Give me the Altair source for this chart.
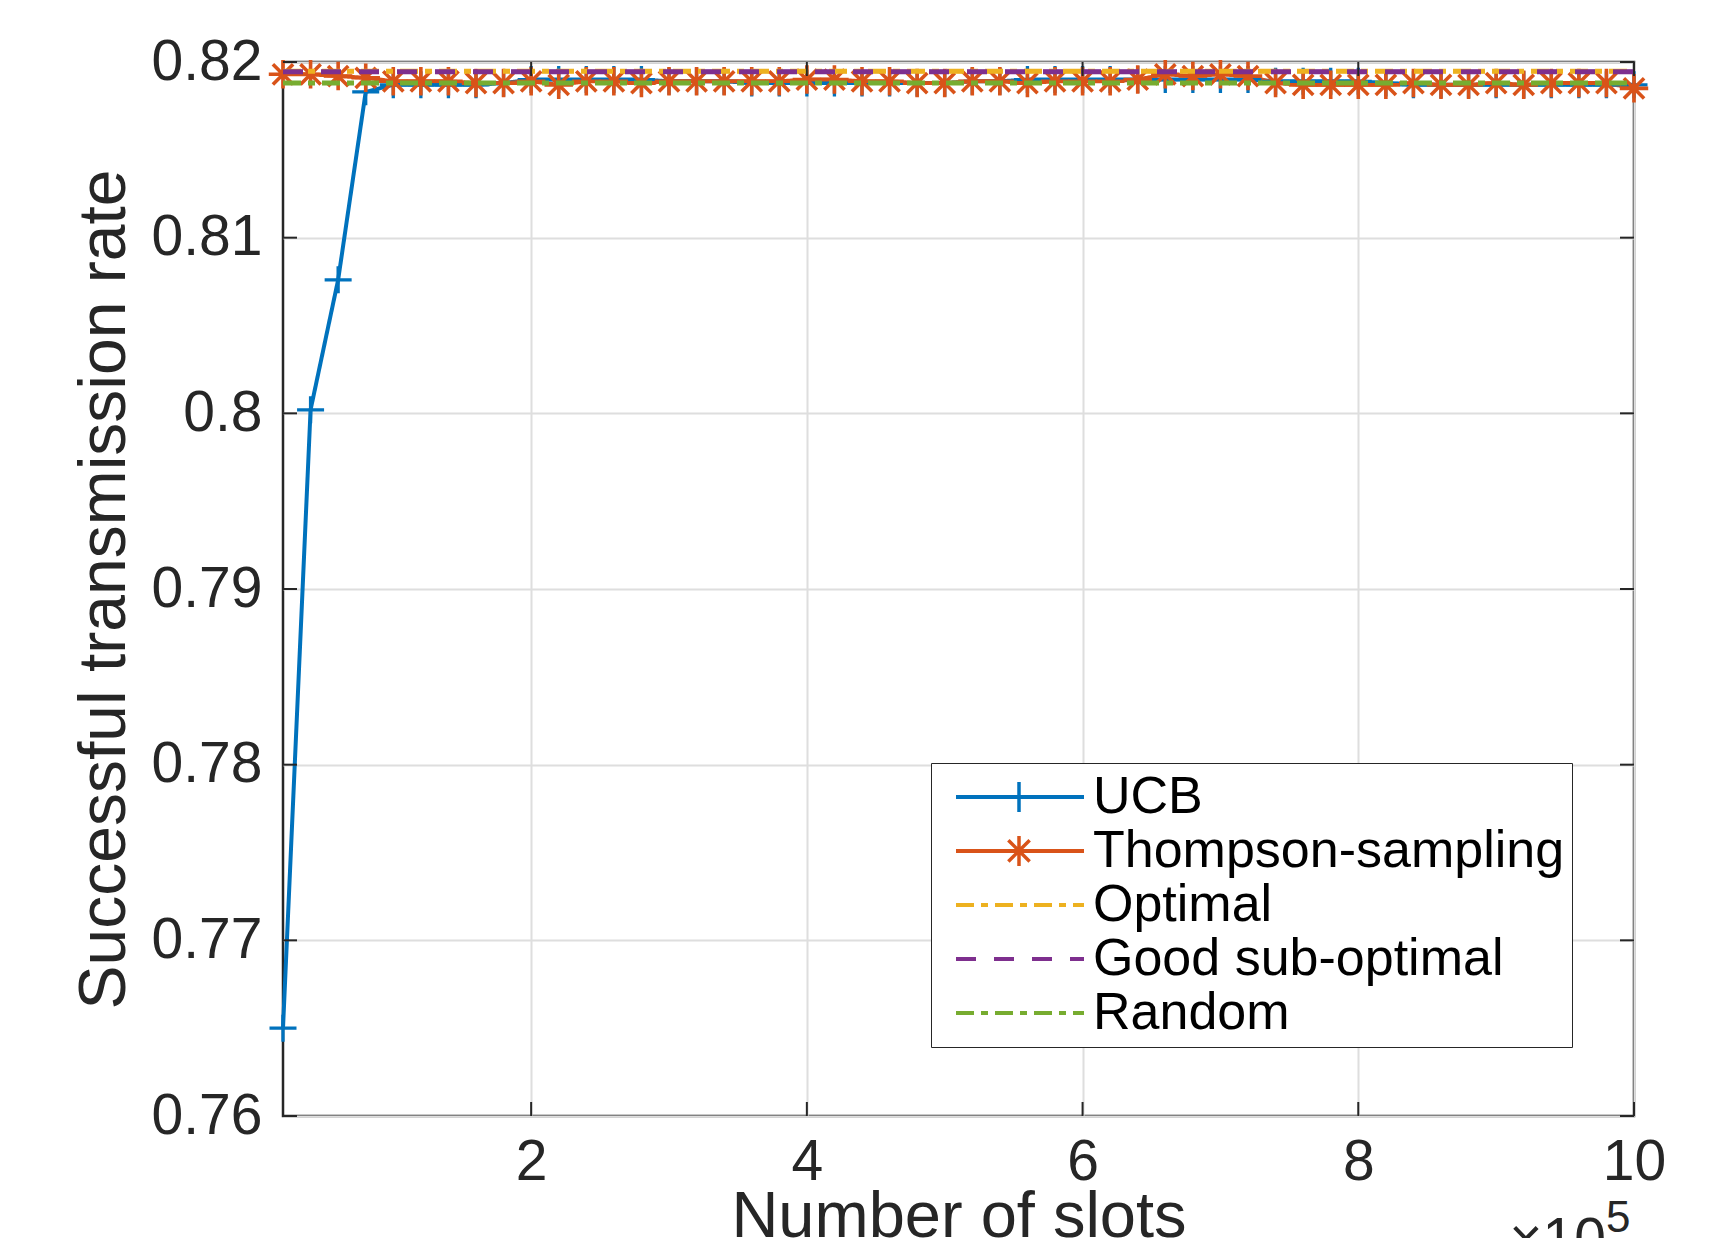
import altair as alt
import pandas as pd

# ---------------- data ----------------
slots = [20000, 40000, 60000, 80000, 100000, 120000, 140000, 160000, 180000, 200000,
         220000, 240000, 260000, 280000, 300000, 320000, 340000, 360000, 380000, 400000,
         420000, 440000, 460000, 480000, 500000, 520000, 540000, 560000, 580000, 600000,
         620000, 640000, 660000, 680000, 700000, 720000, 740000, 760000, 780000, 800000,
         820000, 840000, 860000, 880000, 900000, 920000, 940000, 960000, 980000, 1000000]

ucb = [0.7650, 0.8002, 0.8076, 0.8183, 0.8187, 0.8187, 0.8187, 0.8187, 0.8188, 0.8190,
       0.8190, 0.8190, 0.8190, 0.8190, 0.8189, 0.8189, 0.8189, 0.8188, 0.8188, 0.8188,
       0.8188, 0.8188, 0.8188, 0.8188, 0.8188, 0.8189, 0.8189, 0.8190, 0.8190, 0.8190,
       0.8190, 0.8190, 0.8190, 0.8190, 0.8190, 0.8190, 0.8189, 0.8189, 0.8189, 0.8189,
       0.8188, 0.8187, 0.8187, 0.8187, 0.8187, 0.8187, 0.8187, 0.8187, 0.8187, 0.8187]

thompson = [0.8193, 0.8193, 0.8192, 0.8191, 0.8189, 0.8189, 0.8189, 0.8188, 0.8188, 0.8189,
            0.8187, 0.8189, 0.8189, 0.8188, 0.8189, 0.8189, 0.8189, 0.8189, 0.8189, 0.8190,
            0.8190, 0.8189, 0.8189, 0.8188, 0.8188, 0.8189, 0.8189, 0.8188, 0.8189, 0.8189,
            0.8189, 0.8190, 0.8193, 0.8192, 0.8193, 0.8192, 0.8188, 0.8187, 0.8187, 0.8187,
            0.8187, 0.8188, 0.8187, 0.8187, 0.8188, 0.8187, 0.8188, 0.8188, 0.8188, 0.8185]

const_slots = [20000, 1000000]
optimal = [0.81947, 0.81947]
good_sub = [0.81945, 0.81945]
random_ = [0.8188, 0.8188]

series_names = ["UCB", "Thompson-sampling", "Optimal", "Good sub-optimal", "Random"]
series_colors = ["#0072BD", "#D95319", "#EDB120", "#7E2F8E", "#77AC30"]
series_dash = [[1, 0], [1, 0], [18, 7, 7, 7], [20, 18], [18, 7, 7, 7]]
series_width = [4, 4, 5, 5, 5]

x_ticks = [200000, 400000, 600000, 800000, 1000000]
y_ticks = [0.76, 0.77, 0.78, 0.79, 0.80, 0.81, 0.82]

plus_path = "M-1,0L1,0M0,-1L0,1"
star_path = "M-1,0L1,0M0,-1L0,1M-0.71,-0.71L0.71,0.71M-0.71,0.71L0.71,-0.71"
no_marker = "M0,0L0,0"

# ---------------- tables ----------------
n = len(slots)
df_all = pd.DataFrame({
    "slots": slots + slots + const_slots * 3,
    "rate": ucb + thompson + optimal + good_sub + random_,
    "series": ["UCB"] * n + ["Thompson-sampling"] * n
              + ["Optimal"] * 2 + ["Good sub-optimal"] * 2 + ["Random"] * 2,
})
df_ucb = pd.DataFrame({"slots": slots, "rate": ucb, "m": ["UCB"] * n})
df_ts = pd.DataFrame({"slots": slots, "rate": thompson, "m": ["Thompson-sampling"] * n})
df_opt = pd.DataFrame({"slots": const_slots, "rate": optimal})
df_good = pd.DataFrame({"slots": const_slots, "rate": good_sub})
df_rand = pd.DataFrame({"slots": const_slots, "rate": random_})
df_xt = pd.DataFrame({"slots": x_ticks})
df_yt = pd.DataFrame({"rate": y_ticks})

W, H = 1351, 1054
FONT = "Liberation Sans"
AX = "#262626"

xscale = alt.Scale(domain=[20000, 1000000], nice=False, zero=False)
yscale = alt.Scale(domain=[0.76, 0.82], nice=False, zero=False)

xaxis = alt.Axis(values=x_ticks, labelExpr="datum.value / 100000", grid=True,
                 ticks=False, tickSize=0, domain=False, labelFlush=False,
                 labelFontSize=57, labelColor=AX, labelPadding=18, labelFont=FONT,
                 title="Number of slots", titleFontSize=65, titleFont=FONT,
                 titleColor=AX, titleFontWeight="normal", titleBaseline="alphabetic",
                 titleY=120, titleX=W / 2, gridColor="#dedede", gridWidth=2)
yaxis = alt.Axis(values=y_ticks, format=".2~f", grid=True, ticks=False, tickSize=0,
                 domain=False, labelFlush=False, labelFontSize=57, labelColor=AX,
                 labelPadding=21, labelFont=FONT,
                 title="Successful transmission rate", titleFontSize=66, titleFont=FONT,
                 titleColor=AX, titleFontWeight="normal", titleBaseline="alphabetic",
                 titleX=-159, titleY=H / 2, titleAngle=270, titleAlign="center",
                 gridColor="#dedede", gridWidth=2)

X = alt.X("slots:Q", scale=xscale, axis=xaxis)
Y = alt.Y("rate:Q", scale=yscale, axis=yaxis)
Xn = alt.X("slots:Q", scale=xscale)
Yn = alt.Y("rate:Q", scale=yscale)

# legend of line styles, labels and box
legend_lines = alt.Legend(
    title=None, orient="none", legendX=648, legendY=701,
    padding=7, symbolOffset=16, labelOffset=7, clipHeight=53.8, rowPadding=0,
    symbolSize=16384, symbolStrokeWidth=4, symbolFillColor="transparent",
    labelFontSize=52, labelFont=FONT, labelColor="#000000", labelLimit=800,
    strokeColor=AX, fillColor="#ffffff", zindex=0,
)


def marker_legend(stroke):
    # markers only, laid over the centre of the line symbols above
    return alt.Legend(
        title=None, orient="none", legendX=648, legendY=701,
        padding=7, symbolOffset=55, labelOffset=6, clipHeight=53.8, rowPadding=0,
        symbolSize=900, symbolStrokeWidth=3.5, symbolFillColor="transparent",
        symbolStrokeColor=stroke, labelExpr="''", labelFontSize=52,
        strokeColor="transparent", zindex=1,
    )


color = alt.Color("series:N", scale=alt.Scale(domain=series_names, range=series_colors),
                  legend=legend_lines)
dash = alt.StrokeDash("series:N", scale=alt.Scale(domain=series_names, range=series_dash),
                      legend=legend_lines)
swidth = alt.StrokeWidth("series:N", scale=alt.Scale(domain=series_names, range=series_width),
                         legend=None)

all_lines = alt.Chart(df_all).mark_line().encode(
    x=X, y=Y, color=color, strokeDash=dash, strokeWidth=swidth)

ucb_pts = alt.Chart(df_ucb).mark_point(
    filled=False, size=729, strokeWidth=3.3, opacity=1, color=series_colors[0]
).encode(
    x=Xn, y=Yn,
    shape=alt.Shape("m:N", scale=alt.Scale(
        domain=series_names,
        range=[plus_path, no_marker, no_marker, no_marker, no_marker]),
        legend=marker_legend(series_colors[0])),
)
ts_pts = alt.Chart(df_ts).mark_point(
    filled=False, size=810, strokeWidth=3.6, opacity=1, color=series_colors[1]
).encode(
    x=Xn, y=Yn,
    shape=alt.Shape("m:N", scale=alt.Scale(
        domain=series_names,
        range=[no_marker, star_path, no_marker, no_marker, no_marker]),
        legend=marker_legend(series_colors[1])),
)

# constant lines drawn again on top, in the original plotting order
opt_line = alt.Chart(df_opt).mark_line(strokeWidth=5, color=series_colors[2],
                                        strokeDash=series_dash[2]).encode(x=Xn, y=Yn)
good_line = alt.Chart(df_good).mark_line(strokeWidth=5, color=series_colors[3],
                                          strokeDash=series_dash[3]).encode(x=Xn, y=Yn)
rand_line = alt.Chart(df_rand).mark_line(strokeWidth=5, color=series_colors[4],
                                          strokeDash=series_dash[4]).encode(x=Xn, y=Yn)

# inward box ticks (MATLAB style)
tick_bot = alt.Chart(df_xt).mark_rule(color=AX, strokeWidth=2).encode(
    x=Xn, y=alt.value(H), y2=alt.value(H - 14))
tick_top = alt.Chart(df_xt).mark_rule(color=AX, strokeWidth=2).encode(
    x=Xn, y=alt.value(0), y2=alt.value(14))
tick_left = alt.Chart(df_yt).mark_rule(color=AX, strokeWidth=2).encode(
    y=Yn, x=alt.value(0), x2=alt.value(14))
tick_right = alt.Chart(df_yt).mark_rule(color=AX, strokeWidth=2).encode(
    y=Yn, x=alt.value(W), x2=alt.value(W - 14))

# axis exponent "x10^5"
exp_base = alt.Chart(pd.DataFrame({"t": ["×10"]})).mark_text(
    align="right", baseline="alphabetic", fontSize=57, font=FONT, color=AX, dx=-28
).encode(x=alt.datum(1000000, scale=xscale), y=alt.value(H + 142), text="t:N")
exp_sup = alt.Chart(pd.DataFrame({"t": ["5"]})).mark_text(
    align="left", baseline="alphabetic", fontSize=44, font=FONT, color=AX, dx=-28
).encode(x=alt.datum(1000000, scale=xscale), y=alt.value(H + 116), text="t:N")

chart = alt.layer(
    all_lines, ucb_pts, ts_pts, opt_line, good_line, rand_line,
    tick_bot, tick_top, tick_left, tick_right, exp_base, exp_sup
).resolve_scale(
    shape="independent"
).properties(
    width=W, height=H,
    autosize=alt.AutoSizeParams(type="none"),
    padding={"left": 275, "top": 54, "right": 60, "bottom": 122},
    background="white",
).configure_view(stroke=AX, strokeWidth=2.5)

chart.save("out.html", embed_options={"renderer": "svg", "actions": False})
